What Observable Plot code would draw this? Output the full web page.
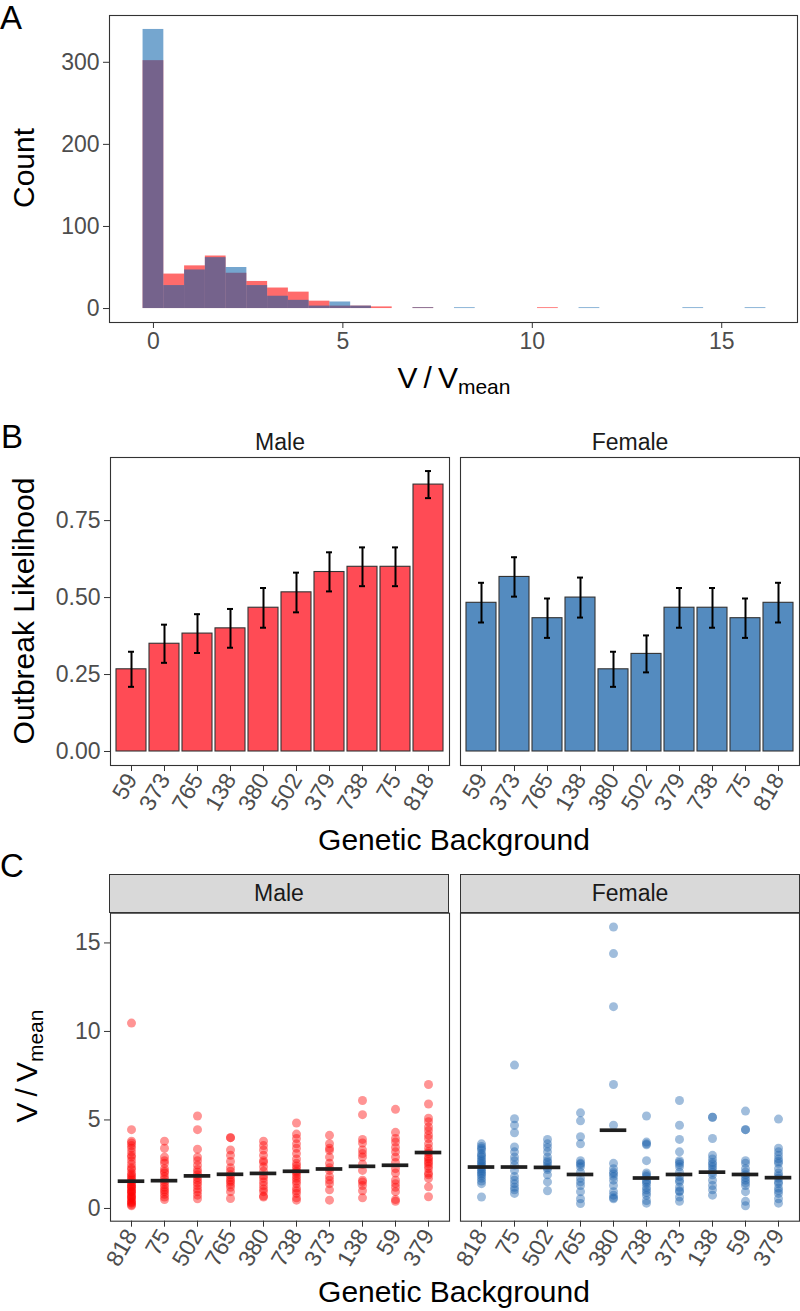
<!DOCTYPE html>
<html><head><meta charset="utf-8">
<script src="https://cdn.jsdelivr.net/npm/d3@7"></script>
<script src="https://cdn.jsdelivr.net/npm/@observablehq/plot@0.6"></script>
<style>
body{margin:0;background:#fff;}
#fig{position:relative;width:800px;height:1311px;overflow:hidden;background:#fff;font-family:"Liberation Sans",Arial,sans-serif;color:#000;}
.abs{position:absolute;white-space:nowrap;line-height:1;}
.plot{position:absolute;left:0;}
.letter{font-size:33px;}
.title{font-size:30px;}
.rot{transform:translate(-50%,-50%) rotate(-90deg);}
.hc{transform:translate(-50%,-50%);}
.sub{font-size:21px;position:relative;top:6px;}
.strip{position:absolute;box-sizing:border-box;background:#D9D9D9;border:1.1px solid #333;font-size:23px;color:#1A1A1A;display:flex;align-items:center;justify-content:center;}
</style>
</head><body><div id="fig"></div>
<script>
const FONT = "Liberation Sans, Arial, sans-serif";

// ---------- Panel A : histogram of V/Vmean (bin counts, bins centred on k*binWidth)
const binWidth = 0.548;
const maleCounts   = [302,42,52,64,43,33,25,20,9,3,3,2,0,1,0,0,0,0,0,1,0,0,0,0,0,0,0,0,0,0];
const femaleCounts = [340,28,47,62,50,28,15,10,3,8,3,0,0,1,0,1,0,0,0,0,0,1,0,0,0,0,1,0,0,1];
const histTicksX = [0,5,10,15];
const histTicksY = [0,100,200,300];

// ---------- Panel B : outbreak likelihood
const sexes = ["Male","Female"];
const genoB = ["59","373","765","138","380","502","379","738","75","818"];
const maleLikelihood   = [0.267,0.350,0.383,0.400,0.467,0.517,0.583,0.600,0.600,0.867];
const maleLo           = [0.210,0.288,0.320,0.337,0.402,0.452,0.520,0.537,0.537,0.823];
const maleHi           = [0.324,0.412,0.446,0.463,0.531,0.581,0.647,0.663,0.663,0.911];
const femaleLikelihood = [0.483,0.567,0.433,0.500,0.267,0.317,0.467,0.467,0.433,0.483];
const femaleLo         = [0.419,0.503,0.369,0.435,0.210,0.257,0.402,0.402,0.369,0.419];
const femaleHi         = [0.548,0.631,0.497,0.565,0.324,0.377,0.531,0.531,0.497,0.548];
const likelihoodTicks = [0,0.25,0.5,0.75];

// ---------- Panel C : V/Vmean per genetic background
const genoC = ["818","75","502","765","380","738","373","138","59","379"];
const maleMean   = [1.54,1.57,1.84,1.93,1.98,2.10,2.23,2.38,2.44,3.16];
const femaleMean = [2.34,2.34,2.32,1.92,4.42,1.72,1.92,2.05,1.92,1.74];
const malePoints = [
  [10.47,4.45,3.8,3.7,3.55,3.4,3.2,3.0,2.9,2.7,2.5,2.3,2.2,2.0,1.9,1.8,1.7,1.6,1.5,1.4,1.3,1.25,1.2,1.1,1.0,0.95,0.9,0.8,0.7,0.65,0.6,0.5,0.4,0.35,0.3,0.2,0.15],
  [3.8,3.4,2.9,2.7,2.55,2.25,2.1,2.0,1.8,1.65,1.5,1.35,1.2,1.05,0.95,0.8,0.65,0.5],
  [5.22,4.45,3.35,2.9,2.7,2.45,2.2,2.05,1.9,1.75,1.6,1.45,1.3,1.1,0.95,0.75,0.55],
  [4.0,4.0,3.3,3.0,2.65,2.3,2.1,1.9,1.75,1.6,1.5,1.35,1.2,0.95,0.56],
  [3.8,3.55,3.3,3.0,2.7,2.6,2.35,2.1,1.85,1.7,1.5,1.3,1.1,0.95,0.7,0.65],
  [4.83,4.2,3.95,3.65,3.4,3.1,2.8,2.55,2.4,2.25,2.1,2.0,1.85,1.7,1.55,1.4,1.15,1.0,0.85,0.6,0.47],
  [4.13,3.66,3.4,3.28,2.9,2.55,2.3,2.15,1.8,1.6,1.4,1.05,0.47],
  [6.1,5.3,3.9,3.7,3.3,3.1,2.9,2.5,2.15,1.6,1.5,1.3,1.0,0.6],
  [5.6,4.3,3.95,3.75,3.45,3.2,2.9,2.6,2.25,2.0,1.6,1.4,1.2,0.95,0.5,0.4],
  [7.0,5.9,5.1,4.9,4.6,4.4,4.15,3.95,3.65,3.4,3.2,3.1,2.9,2.8,2.65,2.55,2.4,2.25,2.0,1.9,1.7,1.22,0.66]
];
const femalePoints = [
  [3.65,3.5,3.4,3.3,3.1,3.0,2.9,2.75,2.65,2.55,2.45,2.35,2.25,2.15,2.05,1.95,1.85,1.7,1.55,1.4,0.65],
  [8.1,5.07,4.7,4.28,3.47,3.2,2.9,2.7,2.45,2.15,1.8,1.6,1.4,1.2,1.05,0.85],
  [3.9,3.65,3.45,3.2,2.9,2.7,2.6,2.45,2.3,2.2,1.9,1.5,1.0],
  [5.4,4.95,4.05,3.65,2.7,2.55,2.5,2.35,2.05,1.7,1.5,1.3,0.95,0.55,0.28],
  [15.9,14.4,11.4,7.0,4.7,2.55,2.25,2.05,1.95,1.8,1.6,1.3,0.95,0.75,0.6,0.55],
  [5.22,3.75,3.65,3.6,2.7,2.0,1.9,1.8,1.6,1.5,1.4,1.2,1.05,0.9,0.75,0.45,0.3],
  [6.1,4.7,3.9,3.2,2.7,2.6,2.5,2.35,2.05,1.8,1.6,1.5,1.2,1.0,0.95,0.65,0.4],
  [5.15,5.15,3.95,3.0,2.8,2.6,2.5,2.35,2.2,2.05,1.9,1.6,1.3,1.05,0.75],
  [5.5,4.45,4.45,2.7,2.55,2.25,2.05,1.9,1.75,1.6,1.45,1.3,0.95,0.4,0.15],
  [5.05,3.4,3.2,3.0,2.8,2.65,2.55,2.25,2.0,1.85,1.7,1.5,1.4,1.15,1.0,0.85,0.55,0.3]
];
const ratioTicks = [0,5,10,15];

// ---------- build
const fig = document.getElementById("fig");
function addPlot(svg, top){ svg.classList.add("plot"); svg.style.top = top + "px"; fig.appendChild(svg); }
function addText(html, cls, left, top){
  const d = document.createElement("div");
  d.className = "abs " + cls; d.innerHTML = html;
  d.style.left = left + "px"; d.style.top = top + "px";
  fig.appendChild(d); return d;
}
const axisStyle = {fontSize:23, tickSize:6, tickPadding:4, stroke:"#333", fill:"#4D4D4D", label:null};

// Panel A
const histRows = [];
maleCounts.forEach((c,i)=>{ if (c>0) histRows.push({sex:"Male", x1:(i-0.5)*binWidth, x2:(i+0.5)*binWidth, count:c}); });
femaleCounts.forEach((c,i)=>{ if (c>0) histRows.push({sex:"Female", x1:(i-0.5)*binWidth, x2:(i+0.5)*binWidth, count:c}); });
const plotA = Plot.plot({
  width:800, height:360, marginLeft:109, marginRight:3, marginTop:15, marginBottom:38,
  style:{fontFamily:FONT, fontSize:"23px", background:"transparent"},
  x:{domain:[-1.16,17.0]}, y:{domain:[-17,357]},
  marks:[
    Plot.rectY(histRows.filter(d=>d.sex==="Male"), {x1:"x1", x2:"x2", y:"count", fill:"#FF0000", fillOpacity:0.58, inset:0}),
    Plot.rectY(histRows.filter(d=>d.sex==="Female"), {x1:"x1", x2:"x2", y:"count", fill:"#045CA7", fillOpacity:0.55, inset:0}),
    Plot.frame({stroke:"#333", strokeWidth:1.1}),
    Plot.axisX({...axisStyle, ticks:histTicksX}),
    Plot.axisY({...axisStyle, ticks:histTicksY})
  ]
});
addPlot(plotA, 0);

// Panel B
const bRows = genoB.flatMap((g,i)=>[
  {sex:"Male", geno:g, p:maleLikelihood[i], lo:maleLo[i], hi:maleHi[i]},
  {sex:"Female", geno:g, p:femaleLikelihood[i], lo:femaleLo[i], hi:femaleHi[i]}
]);
const plotB = Plot.plot({
  width:800, height:420, marginLeft:109, marginRight:1, marginTop:57, marginBottom:55,
  style:{fontFamily:FONT, fontSize:"23px", background:"transparent"},
  fx:{domain:sexes, paddingInner:0.032, paddingOuter:0, label:null},
  x:{domain:genoB, paddingInner:0.1, paddingOuter:0.15, label:null},
  y:{domain:[-0.0455,0.955], label:null},
  color:{domain:sexes, range:["#FF4B55","#548BBF"]},
  marks:[
    Plot.frame({stroke:"#333", strokeWidth:1.1}),
    Plot.barY(bRows, {fx:"sex", x:"geno", y:"p", fill:"sex", stroke:"#333", strokeWidth:1.1}),
    Plot.ruleX(bRows, {fx:"sex", x:"geno", y1:"lo", y2:"hi", stroke:"#000", strokeWidth:2}),
    Plot.tickY(bRows, {fx:"sex", x:"geno", y:"lo", stroke:"#000", strokeWidth:2, insetLeft:12, insetRight:12}),
    Plot.tickY(bRows, {fx:"sex", x:"geno", y:"hi", stroke:"#000", strokeWidth:2, insetLeft:12, insetRight:12}),
    Plot.axisX({...axisStyle, tickRotate:-60}),
    Plot.axisY({...axisStyle, ticks:likelihoodTicks, tickFormat:d3.format(".2f")}),
    Plot.axisFx({anchor:"top", tickSize:0, tickPadding:8, fontSize:23, fill:"#1A1A1A", label:null})
  ]
});
addPlot(plotB, 400);

// Panel C
const cRows = [];
genoC.forEach((g,i)=>{
  malePoints[i].forEach(v=>cRows.push({sex:"Male", geno:g, v}));
  femalePoints[i].forEach(v=>cRows.push({sex:"Female", geno:g, v}));
});
const cMeans = genoC.flatMap((g,i)=>[{sex:"Male", geno:g, m:maleMean[i]},{sex:"Female", geno:g, m:femaleMean[i]}]);
const plotC = Plot.plot({
  width:800, height:410, marginLeft:109, marginRight:1, marginTop:42.7, marginBottom:59.3,
  style:{fontFamily:FONT, fontSize:"23px", background:"transparent"},
  fx:{domain:sexes, paddingInner:0.032, paddingOuter:0, label:null, axis:null},
  x:{domain:genoC, paddingInner:0.1, paddingOuter:0.15, label:null},
  y:{domain:[-0.72,16.68], label:null},
  color:{domain:sexes, range:["#FF0000","#1C61AC"]},
  marks:[
    Plot.frame({stroke:"#333", strokeWidth:1.1}),
    Plot.dot(cRows, {fx:"sex", x:"geno", y:"v", r:4.5, fill:"sex", fillOpacity:0.42}),
    Plot.tickY(cMeans, {fx:"sex", x:"geno", y:"m", stroke:"#1F1F1F", strokeWidth:3.7, insetLeft:1.7, insetRight:1.7}),
    Plot.axisX({...axisStyle, tickRotate:-60}),
    Plot.axisY({...axisStyle, ticks:ratioTicks})
  ]
});
addPlot(plotC, 870);

// strips for panel C
[["Male",109],["Female",460]].forEach(([t,l])=>{
  const s = document.createElement("div");
  s.className = "strip"; s.textContent = t;
  s.style.left = l + "px"; s.style.top = "874px"; s.style.width = "340px"; s.style.height = "39px";
  fig.appendChild(s);
});

// titles & panel letters
addText("A", "letter", 0, 1);
addText("B", "letter", 1, 420);
addText("C", "letter", 0, 849);
addText("Count", "title rot", 24, 168);
addText("V&thinsp;/&thinsp;V<span class='sub'>mean</span>", "title hc", 454, 378);
addText("Outbreak Likelihood", "title rot", 24, 611);
addText("Genetic Background", "title hc", 454, 840);
addText("V&thinsp;/&thinsp;V<span class='sub'>mean</span>", "title rot", 27, 1066);
addText("Genetic Background", "title hc", 454, 1292);
</script>
</body></html>
